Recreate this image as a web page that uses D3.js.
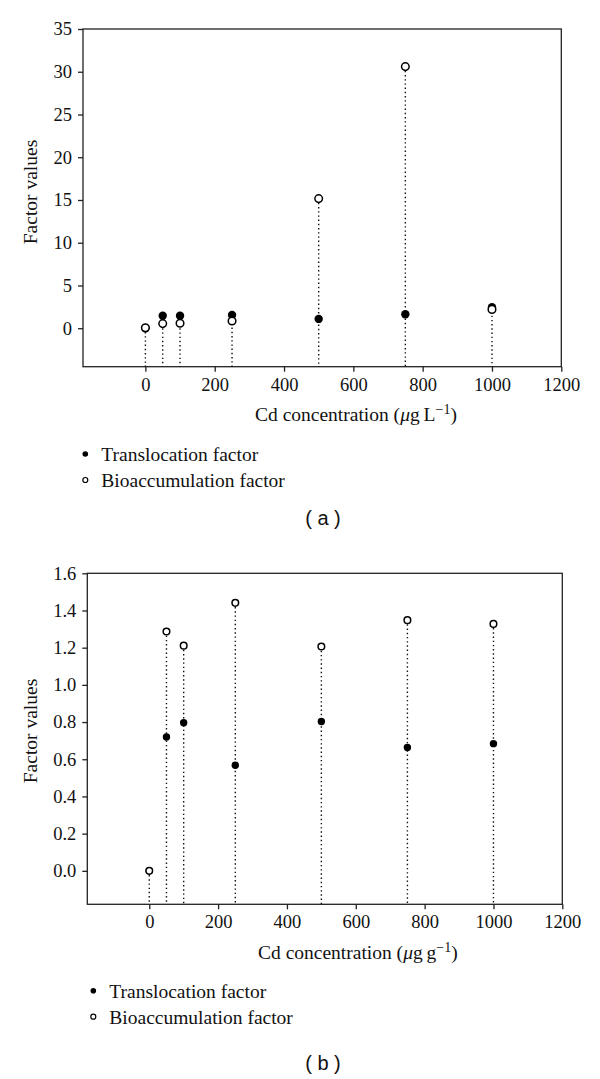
<!DOCTYPE html>
<html>
<head>
<meta charset="utf-8">
<script src="https://cdn.jsdelivr.net/npm/d3@7/dist/d3.min.js"></script>
<style>
  body { margin: 0; background: #fff; }
  svg text { font-family: "Liberation Serif", "Times New Roman", serif; fill: #111; }
</style>
</head>
<body>
<div id="chart"></div>
<script>
// Cd concentrations (x values), shared by both panels
const concentrations = [0, 50, 100, 250, 500, 750, 1000];

// panel (a): µg L-1
const translocationA = [0, 1.47, 1.47, 1.55, 1.09, 1.64, 2.45];
const bioaccumulationA = [0.05, 0.54, 0.58, 0.85, 15.16, 30.6, 2.2];

// panel (b): µg g-1
const translocationB = [0, 0.72, 0.796, 0.568, 0.803, 0.663, 0.684];
const bioaccumulationB = [0, 1.287, 1.211, 1.441, 1.206, 1.348, 1.328];

const xTicks = [0, 200, 400, 600, 800, 1000, 1200];
const yTicksA = [0, 5, 10, 15, 20, 25, 30, 35];
const yTicksB = [0, 0.2, 0.4, 0.6, 0.8, 1.0, 1.2, 1.4, 1.6];

const seriesNames = ["Translocation factor", "Bioaccumulation factor"];

var svg = d3.select("#chart")
    .append("svg")
    .attr("width", 600)
    .attr("height", 1079);

function drawPanel(p) {
    var x = d3.scaleLinear().domain([-180, 1200]).range([p.left, p.right]);
    var y = d3.scaleLinear().domain(p.yDomain).range([p.bottom, p.top]);
    var g = svg.append("g");

    // frame
    g.append("rect")
        .attr("x", p.left).attr("y", p.top)
        .attr("width", p.right - p.left).attr("height", p.bottom - p.top)
        .attr("fill", "none")
        .attr("stroke", "#222")
        .attr("stroke-width", 1.3);

    var xAxis = g.append("g")
        .attr("transform", "translate(0," + p.bottom + ")")
        .call(d3.axisBottom(x).tickValues(xTicks).tickSize(5).tickPadding(6).tickFormat(d3.format("d")));
    var yAxis = g.append("g")
        .attr("transform", "translate(" + p.left + ",0)")
        .call(d3.axisLeft(y).tickValues(p.yTicks).tickSize(5).tickPadding(6).tickFormat(p.yFormat));

    [xAxis, yAxis].forEach(function(a) {
        a.select(".domain").remove();
        a.selectAll("line").attr("stroke", "#222").attr("stroke-width", 1.3);
        a.selectAll("text")
            .style("font-family", "Liberation Serif, serif")
            .style("font-size", "18.5px")
            .attr("fill", "#111");
    });

    var pts = concentrations.map(function(c, i) {
        return { c: c, t: p.trans[i], b: p.bio[i] };
    });

    // dotted drop lines
    g.selectAll(".drop")
        .data(pts)
        .enter()
        .append("line")
        .attr("class", "drop")
        .attr("x1", function(d) { return x(d.c); })
        .attr("x2", function(d) { return x(d.c); })
        .attr("y1", function(d) { return y(Math.max(d.t, d.b)); })
        .attr("y2", p.bottom)
        .attr("stroke", "#111")
        .attr("stroke-width", 1.4)
        .attr("stroke-dasharray", "1.4,2.8");

    g.selectAll(".trans")
        .data(pts)
        .enter()
        .append("circle")
        .attr("cx", function(d) { return x(d.c); })
        .attr("cy", function(d) { return y(d.t); })
        .attr("r", p.r + 0.4)
        .attr("fill", "#000");

    g.selectAll(".bio")
        .data(pts)
        .enter()
        .append("circle")
        .attr("cx", function(d) { return x(d.c); })
        .attr("cy", function(d) { return y(d.b); })
        .attr("r", p.r)
        .attr("fill", "#fff")
        .attr("stroke", "#000")
        .attr("stroke-width", 1.5);

    // y title
    g.append("text")
        .attr("transform", "translate(" + 37 + "," + p.yTitleY + ") rotate(-90)")
        .attr("text-anchor", "middle")
        .style("font-size", "19.5px")
        .text("Factor values");

    // x title
    var xt = g.append("text")
        .attr("x", p.xTitleX)
        .attr("y", p.xTitleY)
        .style("font-size", "19.5px");
    xt.append("tspan").text("Cd concentration (");
    xt.append("tspan").style("font-style", "italic").text("\u03bc");
    xt.append("tspan").text("g\u2009" + p.unit);
    xt.append("tspan").attr("dy", -7).style("font-size", "14px").text("\u22121");
    xt.append("tspan").attr("dy", 7).text(")");

    // legend
    seriesNames.forEach(function(name, i) {
        var ly = p.legendY + i * 26;
        g.append("circle")
            .attr("cx", p.legendX)
            .attr("cy", ly)
            .attr("r", i === 0 ? 2.8 : 2.5)
            .attr("fill", i === 0 ? "#000" : "#fff")
            .attr("stroke", "#000")
            .attr("stroke-width", i === 0 ? 0 : 1.2);
        g.append("text")
            .attr("x", p.legendX + 16)
            .attr("y", ly)
            .attr("dy", "0.35em")
            .style("font-size", "19.5px")
            .text(name);
    });

    // panel label
    g.append("text")
        .attr("x", 323)
        .attr("y", p.labelY)
        .attr("dy", "0.35em")
        .attr("text-anchor", "middle")
        .style("font-family", "Liberation Sans, Arial, sans-serif")
        .style("font-size", "20px")
        .text(p.label);
}

drawPanel({
    left: 83, right: 561.3, top: 29, bottom: 366.7,
    yDomain: [-4.5, 35], yTicks: yTicksA, yFormat: d3.format("d"),
    trans: translocationA, bio: bioaccumulationA, r: 3.8,
    yTitleY: 192, xTitleX: 255, xTitleY: 421, unit: "L",
    legendX: 85.3, legendY: 454, labelY: 518, label: "( a )"
});

drawPanel({
    left: 87.3, right: 562.3, top: 573.3, bottom: 904.3,
    yDomain: [-0.18, 1.6], yTicks: yTicksB, yFormat: d3.format(".1f"),
    trans: translocationB, bio: bioaccumulationB, r: 3.3,
    yTitleY: 731, xTitleX: 258, xTitleY: 959, unit: "g",
    legendX: 93.3, legendY: 990.7, labelY: 1063, label: "( b )"
});
</script>
</body>
</html>
